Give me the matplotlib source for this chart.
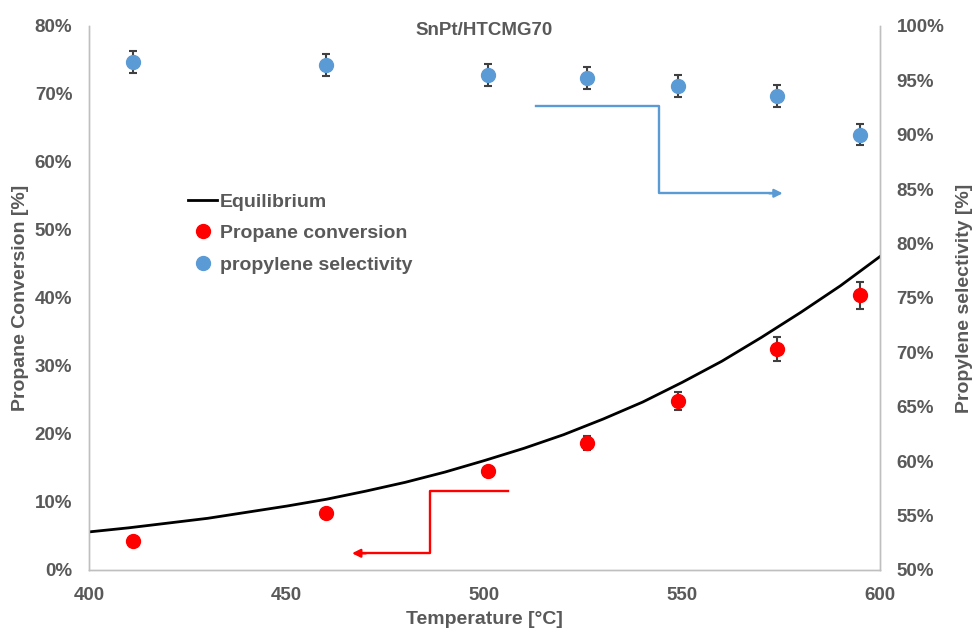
import matplotlib
matplotlib.use("Agg")
import matplotlib.pyplot as plt
from matplotlib.ticker import FuncFormatter, MultipleLocator

plt.rcParams['font.family'] = ['Liberation Sans', 'DejaVu Sans']

# Equilibrium propane conversion vs temperature
eq_temp = [400, 410, 420, 430, 440, 450, 460, 470, 480, 490, 500,
           510, 520, 530, 540, 550, 560, 570, 580, 590, 600]
eq_conv = [5.6, 6.2, 6.9, 7.6, 8.5, 9.4, 10.4, 11.6, 12.9, 14.4, 16.1,
           17.9, 19.9, 22.2, 24.7, 27.6, 30.7, 34.2, 37.9, 41.8, 46.1]

# Measured points
temps = [411, 460, 501, 526, 549, 574, 595]
conversion = [4.3, 8.4, 14.6, 18.7, 24.9, 32.5, 40.4]
conversion_err = [0.0, 0.0, 0.3, 1.0, 1.3, 1.7, 2.0]
selectivity = [96.7, 96.4, 95.5, 95.2, 94.5, 93.6, 90.0]
selectivity_err = [1.0, 1.0, 1.0, 1.0, 1.0, 1.0, 0.95]

title = "SnPt/HTCMG70"
xlabel = "Temperature [°C]"
ylabel_left = "Propane Conversion [%]"
ylabel_right = "Propylene selectivity [%]"

TXT = '#595959'
SPINE = '#bfbfbf'
RED = '#ff0000'
BLUE = '#5b9bd5'
ERR = '#404040'

fig = plt.figure(figsize=(9.74, 6.29), dpi=100)
ax = fig.add_axes([89/974, 59/629, (880-89)/974, (570-26)/629])
ax2 = ax.twinx()

ax.set_xlim(400, 600)
ax.set_ylim(0, 80)
ax2.set_ylim(50, 100)
ax.xaxis.set_major_locator(MultipleLocator(50))
ax.yaxis.set_major_locator(MultipleLocator(10))
ax2.yaxis.set_major_locator(MultipleLocator(5))
pct = FuncFormatter(lambda v, p: f"{v:.0f}%")
ax.yaxis.set_major_formatter(pct)
ax2.yaxis.set_major_formatter(pct)

for a in (ax, ax2):
    for s in a.spines.values():
        s.set_color(SPINE)
        s.set_linewidth(1.0)
    a.spines['top'].set_visible(False)
    a.tick_params(length=0, labelsize=13.5, labelcolor=TXT, pad=12)
    for lbl in a.get_xticklabels() + a.get_yticklabels():
        lbl.set_fontweight('bold')

line_eq, = ax.plot(eq_temp, eq_conv, color='black', lw=2.0, zorder=3,
                   label='Equilibrium')
ax.errorbar(temps, conversion, yerr=conversion_err, fmt='none', ecolor=ERR,
            elinewidth=1.5, capsize=3, capthick=1.5, zorder=4)
pts_conv, = ax.plot(temps, conversion, 'o', color=RED, ms=10, zorder=5,
                    label='Propane conversion')
ax2.errorbar(temps, selectivity, yerr=selectivity_err, fmt='none', ecolor=ERR,
             elinewidth=1.5, capsize=3, capthick=1.5, zorder=4)
pts_sel, = ax2.plot(temps, selectivity, 'o', color=BLUE, ms=10, zorder=5,
                    label='propylene selectivity')

ax.set_xlabel(xlabel, fontsize=14, fontweight='bold', color=TXT, labelpad=5)
ax.set_ylabel(ylabel_left, fontsize=14, fontweight='bold', color=TXT, labelpad=4)
ax2.set_ylabel(ylabel_right, fontsize=14, fontweight='bold', color=TXT, labelpad=8)
ax.set_title(title, fontsize=13.5, fontweight='bold', color=TXT, y=0.968)

# Arrows pointing each series to its axis
ax.plot([505.9, 486.2, 486.2, 468.5], [11.66, 11.66, 2.46, 2.46],
        color=RED, lw=1.7, zorder=2)
ax.annotate('', xy=(466.5, 2.46), xytext=(470, 2.46),
            arrowprops=dict(arrowstyle='-|>', color=RED, lw=1.7,
                            mutation_scale=12, shrinkA=0, shrinkB=0))
ax.plot([513.0, 544.1, 544.1, 573.5], [68.2, 68.2, 55.4, 55.4],
        color=BLUE, lw=1.7, zorder=2)
ax.annotate('', xy=(575.4, 55.4), xytext=(572, 55.4),
            arrowprops=dict(arrowstyle='-|>', color=BLUE, lw=1.7,
                            mutation_scale=12, shrinkA=0, shrinkB=0))

leg = ax.legend(handles=[line_eq, pts_conv, pts_sel], loc='upper left',
                bbox_to_anchor=(188/974, 1 - 193/629),
                bbox_transform=fig.transFigure, frameon=False,
                fontsize=14, handlelength=1.5, handletextpad=0.15,
                labelspacing=0.72, borderaxespad=0, borderpad=0)
for t in leg.get_texts():
    t.set_color(TXT)
    t.set_fontweight('bold')

fig.savefig('out.png', dpi=100)
